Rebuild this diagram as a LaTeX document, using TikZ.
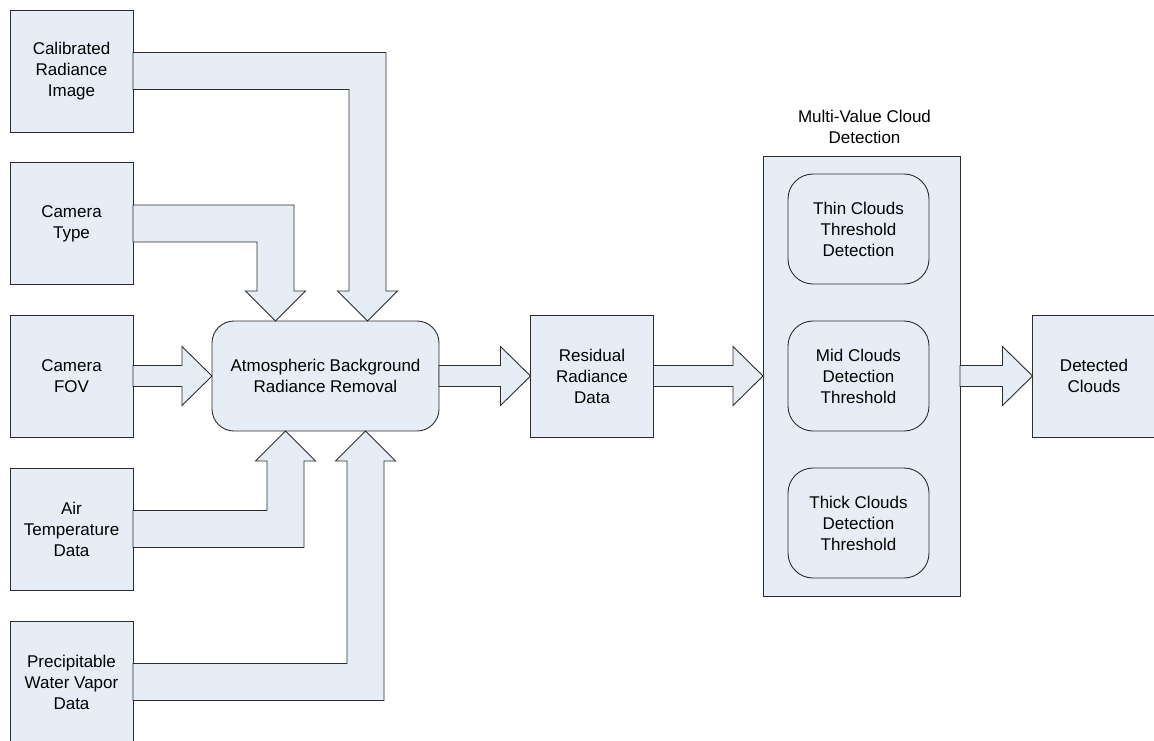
\documentclass[tikz,border=0pt]{standalone}
\usepackage{fontspec}
\setmainfont{Liberation Sans}
\usepackage{tikz}
\usetikzlibrary{calc}
\usetikzlibrary{positioning}
\definecolor{boxfill}{RGB}{231,237,247}
\definecolor{boxline}{RGB}{45,45,45}
\tikzset{block/.style = {draw=boxline, fill=boxfill, line width=0.9pt, inner sep=0pt, outer sep=0pt,
                         align=center, font=\fontsize{17pt}{21pt}\selectfont}}
\tikzset{input/.style = {block, minimum width=123pt, minimum height=122pt}}
\tikzset{stage/.style = {block, rounded corners=22pt, minimum width=227pt, minimum height=110pt}}
\tikzset{test/.style = {block, rounded corners=25pt, minimum width=141pt, minimum height=110pt}}
\tikzset{fatarrow/.style = {draw=boxline, fill=boxfill, line width=0.9pt, line join=miter}}

% straight block arrow from east side of #1 to west side of #2
\newcommand{\flatarrow}[2]{%
  \draw [fatarrow] let \p1 = (#1.east), \p2 = (#2.west) in
    (\x1, {\y1+10.5pt}) -- ({\x2-30pt}, {\y1+10.5pt}) -- ({\x2-30pt}, {\y1+29.5pt})
    -- (\x2, \y1) -- ({\x2-30pt}, {\y1-29.5pt}) -- ({\x2-30pt}, {\y1-10.5pt})
    -- (\x1, {\y1-10.5pt}) -- cycle;}
% bent block arrow from east side of #1 to tip #2, #3 = 1 points down, -1 points up
\newcommand{\elbowarrow}[3]{%
  \draw [fatarrow] let \p1 = (#1.east), \p2 = (#2) in
    (\x1, {\y1+18.5pt}) -- ({\x2+(#3)*18.5pt}, {\y1+18.5pt})
    -- ({\x2+(#3)*18.5pt}, {\y2+(#3)*30pt}) -- ({\x2+(#3)*30pt}, {\y2+(#3)*30pt})
    -- (\x2, \y2) -- ({\x2-(#3)*30pt}, {\y2+(#3)*30pt}) -- ({\x2-(#3)*18.5pt}, {\y2+(#3)*30pt})
    -- ({\x2-(#3)*18.5pt}, {\y1-18.5pt}) -- (\x1, {\y1-18.5pt}) -- cycle;}

\begin{document}
\begin{tikzpicture}[x=1pt, y=-1pt]
    \useasboundingbox (0, 0) rectangle (1154, 740);

    % inputs
    \node [input] (calimg) at (71.5, 71) {Calibrated\\Radiance\\Image};
    \node [input] (camtype) at (71.5, 223.5) {Camera\\Type};
    \node [input] (camfov) at (71.5, 376) {Camera\\FOV};
    \node [input] (airtemp) at (71.5, 529) {Air\\Temperature\\Data};
    \node [input] (watvap) at (71.5, 682) {Precipitable\\Water Vapor\\Data};

    \node [stage] (removal) at (325.5, 376) {Atmospheric Background\\Radiance Removal};
    \node [input] (residual) at (592, 376) {Residual\\Radiance\\Data};

    % cloud detection
    \node [block, minimum width=197pt, minimum height=440pt] (multi) at (861.5, 376) {};
    \node [block, draw=none, fill=none, above=12pt of multi, xshift=3pt] (multititle)
        {Multi-Value Cloud\\Detection};
    \node [test] (thin) at (858.5, 229) {Thin Clouds\\Threshold\\Detection};
    \node [test] (mid) at (858.5, 376) {Mid Clouds\\Detection\\Threshold};
    \node [test] (thick) at (858.5, 523) {Thick Clouds\\Detection\\Threshold};

    \node [input] (detected) at (1094, 376) {Detected\\Clouds};

    \coordinate (calin) at ($(removal.north)+(42, 0)$);
    \coordinate (typein) at ($(removal.north)+(-50, 0)$);
    \coordinate (airin) at ($(removal.south)+(-40, 0)$);
    \coordinate (vapin) at ($(removal.south)+(40, 0)$);

    \elbowarrow{calimg}{calin}{1}
    \elbowarrow{camtype}{typein}{1}
    \elbowarrow{airtemp}{airin}{-1}
    \elbowarrow{watvap}{vapin}{-1}

    \flatarrow{camfov}{removal}
    \flatarrow{removal}{residual}
    \flatarrow{residual}{multi}
    \flatarrow{multi}{detected}
\end{tikzpicture}
\end{document}
